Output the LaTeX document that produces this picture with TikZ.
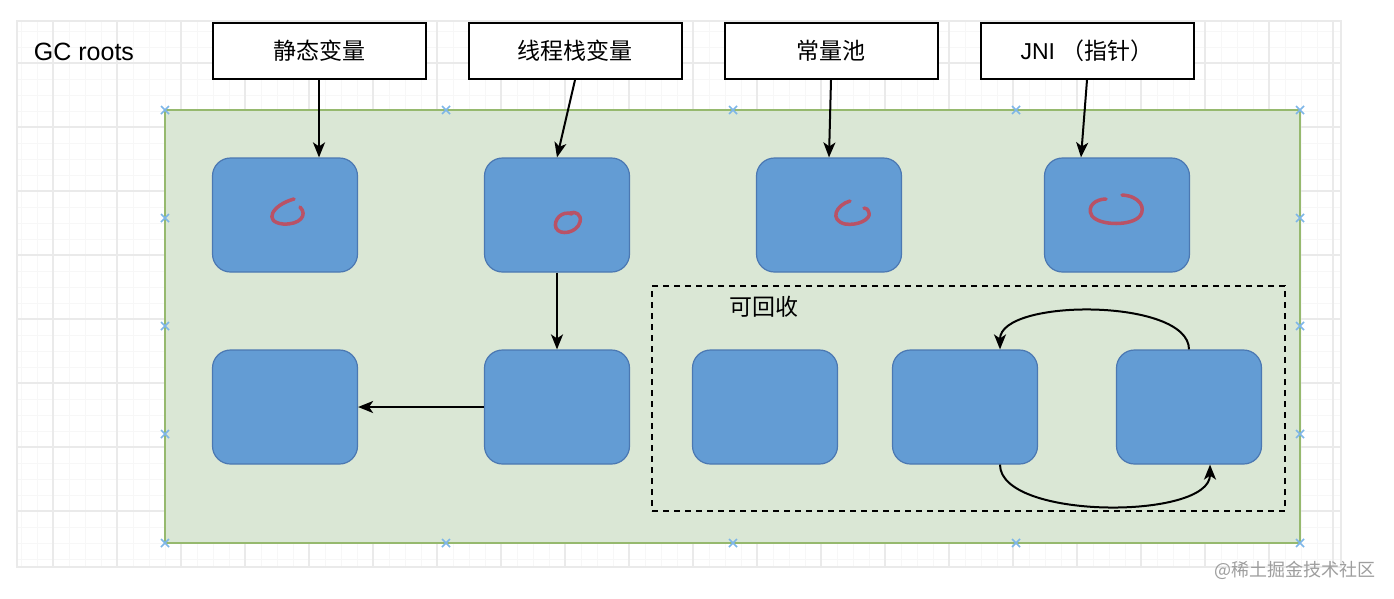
\documentclass[tikz,border=0pt]{standalone}
\usepackage{fontspec}
\setmainfont{Liberation Sans}
\newfontfamily\cjk{Noto Sans CJK SC}
\usetikzlibrary{arrows.meta}
\definecolor{gfill}{RGB}{218,231,213}
\definecolor{gline}{RGB}{150,185,110}
\definecolor{bfill}{RGB}{99,156,212}
\definecolor{bline}{RGB}{75,120,178}
\definecolor{scrib}{RGB}{185,82,102}
\definecolor{xmark}{RGB}{125,182,232}
\definecolor{gridc}{RGB}{247,247,247}
\definecolor{gridm}{RGB}{234,234,234}
\tikzset{
  rootbox/.style={draw=black, line width=2pt, fill=white, minimum width=213pt, minimum height=56pt, inner sep=0pt, font=\fontsize{23}{28}\selectfont},
  obj/.style={draw=bline, line width=1.2pt, fill=bfill, rounded corners=18pt, minimum width=145pt, minimum height=114pt, inner sep=0pt},
  arr/.style={line width=2pt, -{Stealth[length=15pt,width=12pt,inset=4pt]}},
  scribble/.style={draw=scrib, line width=3.5pt, line cap=round, line join=round},
  xm/.style={draw=xmark, line width=1.6pt},
  lbl/.style={inner sep=0pt, text=black}
}
\begin{document}
\begin{tikzpicture}[x=1pt,y=-1pt]
\useasboundingbox (0,0) rectangle (1394,598);
\fill[white] (0,0) rectangle (1394,598);
% grid
\begin{scope}
\clip (17,21) rectangle (1341,567);
\foreach \x in {21,37,...,1341} \draw[gridc, line width=0.8pt] (\x,21) -- (\x,567);
\foreach \y in {31,47,...,567} \draw[gridc, line width=0.8pt] (17,\y) -- (1341,\y);
\foreach \x in {53,117,...,1341} \draw[gridm, line width=1.2pt] (\x,21) -- (\x,567);
\foreach \y in {63,127,...,567} \draw[gridm, line width=1.2pt] (17,\y) -- (1341,\y);
\end{scope}
\draw[gridm, line width=1.5pt] (17,21) rectangle (1341,567);

% heap area
\node[draw=gline, fill=gfill, line width=1.5pt, minimum width=1135pt, minimum height=433pt, inner sep=0pt] (heap) at (732.5,326.5) {};

\node[lbl, font=\fontsize{25}{30}\selectfont] (gc) at (84,52) {GC roots};

% root boxes
\node[rootbox] (t1) at (319,51) {\cjk 静态变量};
\node[rootbox] (t2) at (575,51) {\cjk 线程栈变量};
\node[rootbox] (t3) at (831,51) {\cjk 常量池};
\node[rootbox] (t4) at (1087,51) {JNI \cjk （指针）};

% dashed recyclable region
\node[draw=black, dashed, dash pattern=on 6pt off 5pt, line width=2pt, minimum width=633pt, minimum height=225pt, inner sep=0pt] (rec) at (968.5,398.5) {};
\node[lbl, font=\fontsize{23}{28}\selectfont\cjk] (reclbl) at (764,307) {可回收};

% objects
\node[obj] (b1) at (285,215) {};
\node[obj] (b2) at (557,215) {};
\node[obj] (b3) at (829,215) {};
\node[obj] (b4) at (1117,215) {};
\node[obj] (c1) at (285,407) {};
\node[obj] (c2) at (557,407) {};
\node[obj] (c3) at (765,407) {};
\node[obj] (c4) at (965,407) {};
\node[obj] (c5) at (1189,407) {};

% scribbles
\draw[scribble] (294,199) .. controls (272,205) and (263,222) .. (283,224) .. controls (300,225) and (308,215) .. (300,207);
\draw[scribble] (572,214) .. controls (562,210) and (553,220) .. (556,228) .. controls (560,236) and (577,233) .. (580,222) .. controls (582,214) and (575,211) .. (570,213);
\draw[scribble] (850,201) .. controls (836,205) and (829,220) .. (845,224) .. controls (858,226) and (871,219) .. (869,213) .. controls (868,209) and (866,208) .. (864,208);
\draw[scribble] (1122,195) .. controls (1140,196) and (1146,208) .. (1140,216) .. controls (1132,226) and (1100,226) .. (1092,216) .. controls (1086,206) and (1096,199) .. (1106,199);

% connectors
\draw[arr] (t1.south) -- (t1.south |- b1.north);
\draw[arr] (t2.south) -- (b2.north);
\draw[arr] (t3.south) -- (b3.north);
\draw[arr] (t4.south) -- ([xshift=-36pt]b4.north);
\draw[arr] (b2.south) -- (c2.north);
\draw[arr] (c2.west) -- (c1.east);
\draw[arr] (c5.north) .. controls (1189,298) and (1000,298) .. ([xshift=35pt]c4.north);
\draw[arr] ([xshift=35pt]c4.south) .. controls (1000,520) and (1210,520) .. ([xshift=21pt]c5.south);

% handle markers
\foreach \p in {(165,110),(446,110),(733,110),(1016,110),(1300,110),
                (165,218),(165,326),(165,434),(1300,218),(1300,326),(1300,434),
                (165,543),(446,543),(733,543),(1016,543),(1300,543)}
  \draw[xm] \p ++(-4,-4) -- ++(8,8) \p ++(-4,4) -- ++(8,-8);

% watermark
\node[lbl, text=black!38, font=\fontsize{18}{22}\selectfont\cjk] (wm) at (1295,570) {@稀土掘金技术社区};
\end{tikzpicture}
\end{document}
